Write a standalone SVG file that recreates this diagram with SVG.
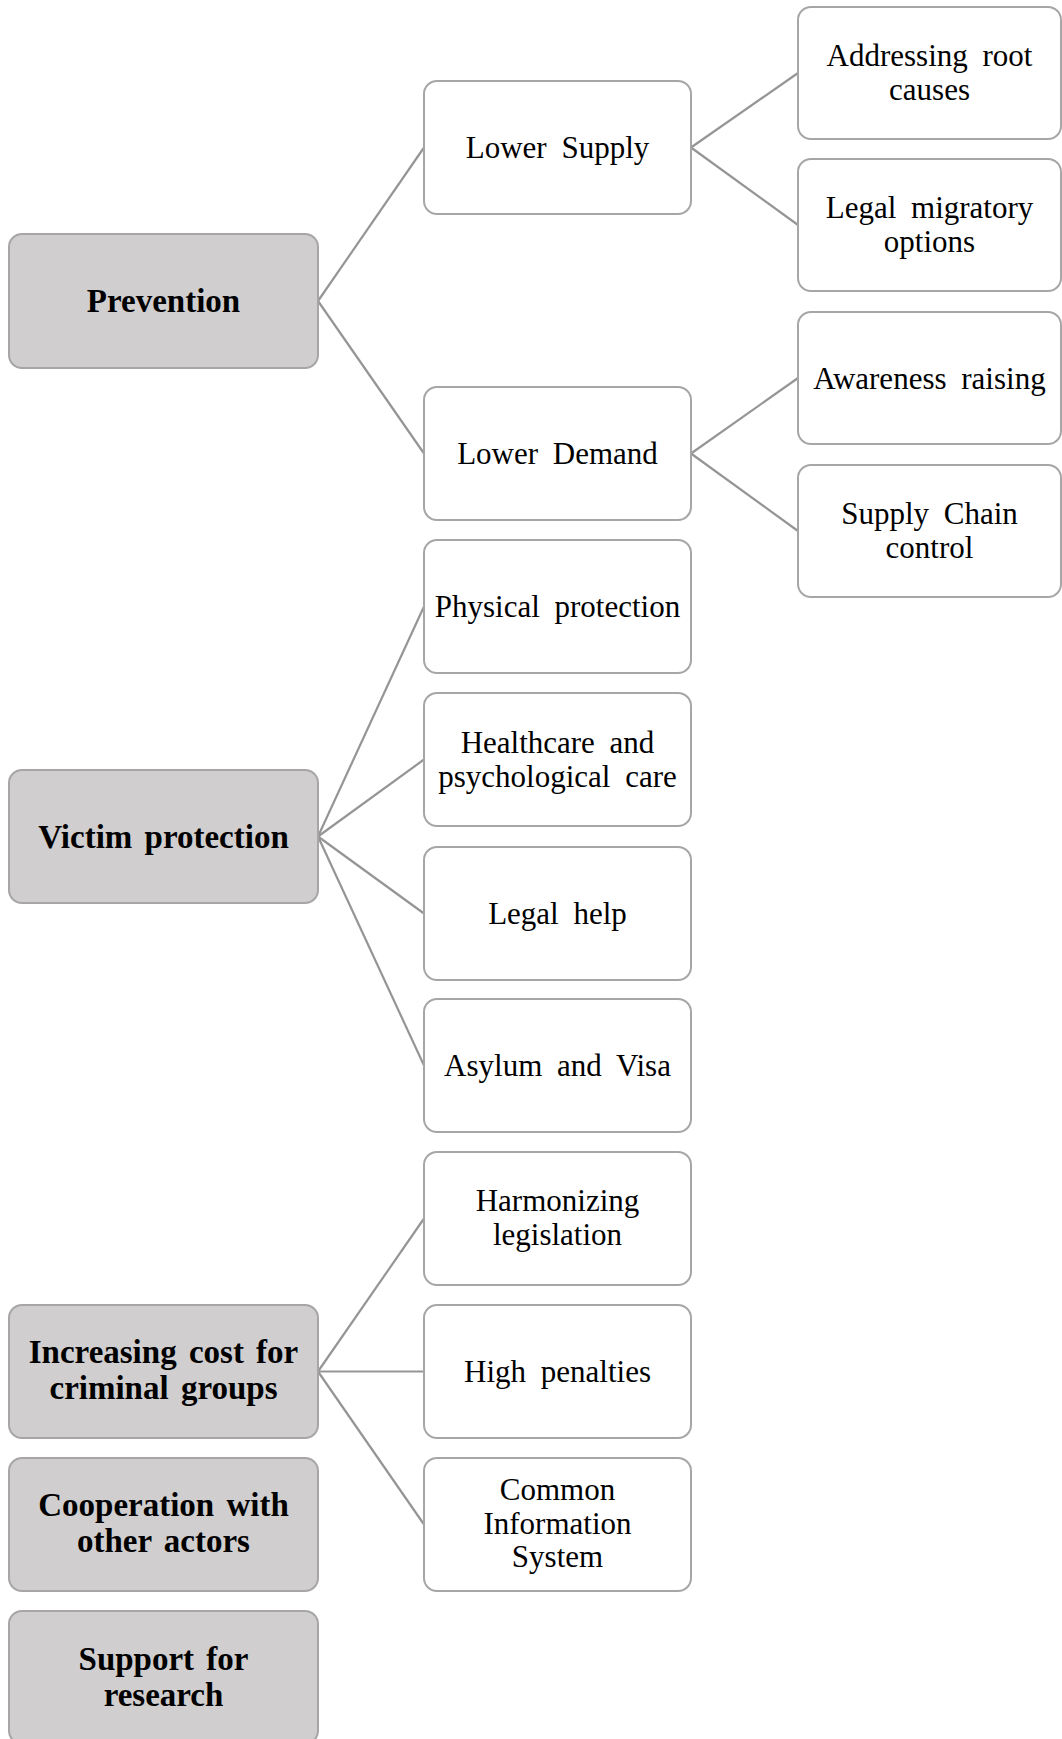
<svg xmlns="http://www.w3.org/2000/svg" width="1062" height="1739" viewBox="0 0 1062 1739">
<style>
.box{fill:#ffffff;stroke:#a6a6a6;stroke-width:2}
.main{fill:#d0cecf;stroke:#a6a6a6;stroke-width:2}
.t{font-family:"Liberation Serif","Times New Roman",serif;font-size:31px;fill:#000;text-anchor:middle;word-spacing:7px}
.b{font-family:"Liberation Serif","Times New Roman",serif;font-size:33px;font-weight:bold;fill:#000;text-anchor:middle;word-spacing:4px}
.c line{stroke:#959595;stroke-width:2.2;fill:none}
</style>
<rect width="1062" height="1739" fill="#ffffff"/>
<g id="connectors" class="c">
<line x1="318" y1="301" x2="424" y2="147.5"/>
<line x1="318" y1="301" x2="424" y2="453.5"/>
<line x1="691" y1="147.5" x2="798" y2="73"/>
<line x1="691" y1="147.5" x2="798" y2="225"/>
<line x1="691" y1="453.5" x2="798" y2="378"/>
<line x1="691" y1="453.5" x2="798" y2="531"/>
<line x1="318" y1="836.5" x2="424" y2="606.5"/>
<line x1="318" y1="836.5" x2="424" y2="759.5"/>
<line x1="318" y1="836.5" x2="424" y2="913.5"/>
<line x1="318" y1="836.5" x2="424" y2="1065.5"/>
<line x1="318" y1="1371.5" x2="424" y2="1218.5"/>
<line x1="318" y1="1371.5" x2="424" y2="1371.5"/>
<line x1="318" y1="1371.5" x2="424" y2="1524.5"/>
</g>
<g id="prevention"><rect class="main" x="9" y="234" width="309" height="134" rx="13"/><text class="b" x="163.5" y="312">Prevention</text></g>
<g id="victim-protection"><rect class="main" x="9" y="770" width="309" height="133" rx="13"/><text class="b" x="163.5" y="847.5">Victim protection</text></g>
<g id="increasing-cost"><rect class="main" x="9" y="1305" width="309" height="133" rx="13"/><text class="b" x="163.5" y="1363">Increasing cost for</text><text class="b" x="163.5" y="1399">criminal groups</text></g>
<g id="cooperation"><rect class="main" x="9" y="1458" width="309" height="133" rx="13"/><text class="b" x="163.5" y="1516">Cooperation with</text><text class="b" x="163.5" y="1552">other actors</text></g>
<g id="support-research"><rect class="main" x="9" y="1611" width="309" height="133" rx="13"/><text class="b" x="163.5" y="1670">Support for</text><text class="b" x="163.5" y="1706">research</text></g>

<g id="lower-supply"><rect class="box" x="424" y="81" width="267" height="133" rx="13"/><text class="t" x="557.5" y="158">Lower Supply</text></g>
<g id="lower-demand"><rect class="box" x="424" y="387" width="267" height="133" rx="13"/><text class="t" x="557.5" y="464">Lower Demand</text></g>
<g id="physical-protection"><rect class="box" x="424" y="540" width="267" height="133" rx="13"/><text class="t" x="557.5" y="617">Physical protection</text></g>
<g id="healthcare"><rect class="box" x="424" y="693" width="267" height="133" rx="13"/><text class="t" x="557.5" y="753">Healthcare and</text><text class="t" x="557.5" y="787">psychological care</text></g>
<g id="legal-help"><rect class="box" x="424" y="847" width="267" height="133" rx="13"/><text class="t" x="557.5" y="924">Legal help</text></g>
<g id="asylum-visa"><rect class="box" x="424" y="999" width="267" height="133" rx="13"/><text class="t" x="557.5" y="1076">Asylum and Visa</text></g>
<g id="harmonizing"><rect class="box" x="424" y="1152" width="267" height="133" rx="13"/><text class="t" x="557.5" y="1211">Harmonizing</text><text class="t" x="557.5" y="1245">legislation</text></g>
<g id="high-penalties"><rect class="box" x="424" y="1305" width="267" height="133" rx="13"/><text class="t" x="557.5" y="1382">High penalties</text></g>
<g id="common-info"><rect class="box" x="424" y="1458" width="267" height="133" rx="13"/><text class="t" x="557.5" y="1500">Common</text><text class="t" x="557.5" y="1533.5">Information</text><text class="t" x="557.5" y="1567">System</text></g>

<g id="root-causes"><rect class="box" x="798" y="7" width="263" height="132" rx="13"/><text class="t" x="929.5" y="66">Addressing root</text><text class="t" x="929.5" y="100">causes</text></g>
<g id="legal-migratory"><rect class="box" x="798" y="159" width="263" height="132" rx="13"/><text class="t" x="929.5" y="218">Legal migratory</text><text class="t" x="929.5" y="252">options</text></g>
<g id="awareness"><rect class="box" x="798" y="312" width="263" height="132" rx="13"/><text class="t" x="929.5" y="388.5">Awareness raising</text></g>
<g id="supply-chain"><rect class="box" x="798" y="465" width="263" height="132" rx="13"/><text class="t" x="929.5" y="524">Supply Chain</text><text class="t" x="929.5" y="558">control</text></g>
</svg>
